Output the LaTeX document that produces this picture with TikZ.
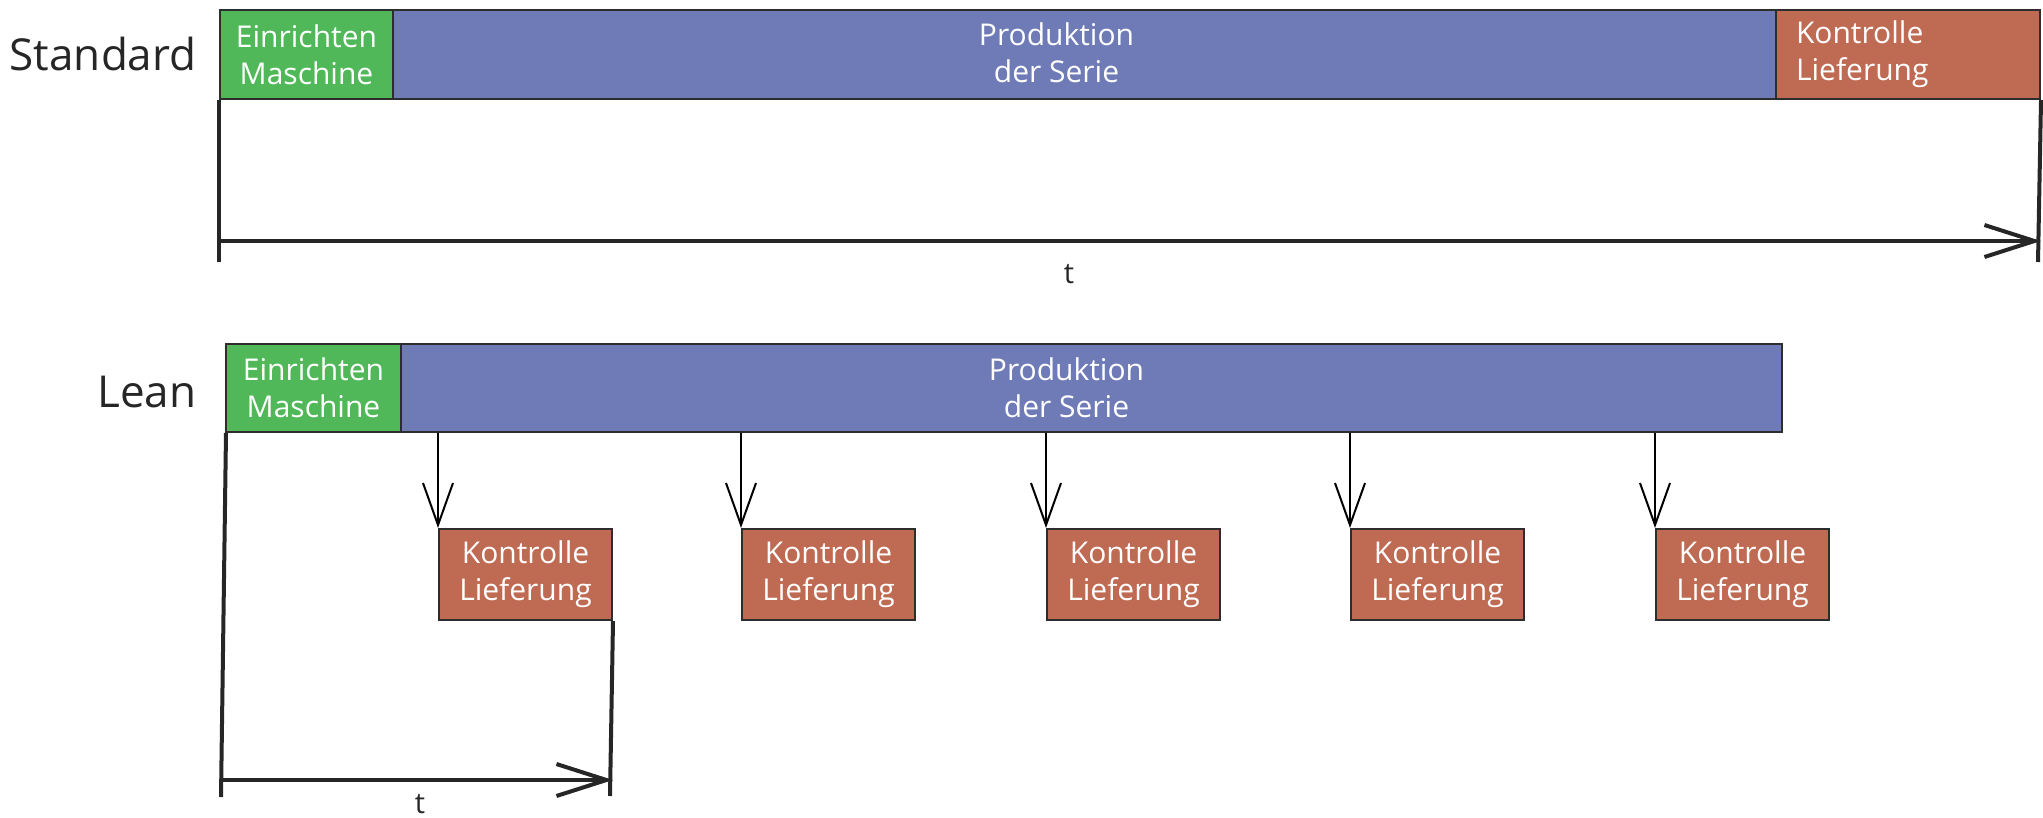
\documentclass[tikz,border=0pt]{standalone}
\usepackage{fontspec}
\setmainfont{Open Sans}
\usetikzlibrary{arrows.meta}
\definecolor{cgreen}{RGB}{80,184,88}
\definecolor{cblue}{RGB}{111,123,182}
\definecolor{cred}{RGB}{191,106,82}
\definecolor{cedge}{RGB}{45,45,45}
\begin{document}
\begin{tikzpicture}[x=1pt,y=-1pt,
  box/.style={draw=cedge,line width=2pt,text=white,align=center,inner sep=0pt,
    font=\fontsize{30}{37}\selectfont,anchor=north west},
  boxtxt/.style={text=white,align=center,font=\fontsize{30}{37}\selectfont},
  rowlbl/.style={font=\fontsize{44}{50}\selectfont,text=black!85,anchor=base east},
  tlbl/.style={font=\fontsize{29}{34}\selectfont,text=black!85,anchor=base},
  axisline/.style={draw=black!85,line width=4pt},
  axistip/.style={-{Straight Barb[length=50pt,width=32pt]}},
  varrow/.style={draw=black,line width=2pt,-{Straight Barb[length=42pt,width=30pt]}}
]
\useasboundingbox (0,0) rectangle (2043,817);

% ---------- Standard ----------
\node[rowlbl] (stdlbl) at (200,70) {Standard};
\node[box,fill=cgreen,minimum width=173pt,minimum height=89pt] (sg) at (219,9) {Einrichten\\Maschine};
\node[box,fill=cblue,minimum width=1383pt,minimum height=89pt,
  label={[boxtxt,xshift=-28pt,yshift=2pt]center:Produktion\\der Serie}] (sb) at (392,9) {};
\node[box,fill=cred,minimum width=264pt,minimum height=89pt,align=left,
  text width=224pt,inner xsep=20pt] (sr) at (1775,9) {Kontrolle\\Lieferung};

\coordinate (s0) at (219,262);
\coordinate (sa) at (219,241);
\coordinate (s1) at (2038,262);
\draw[axisline] (sg.south west) -- (s0);
\draw[axisline] (sr.south east) -- (s1);
\draw[axisline,axistip] (sa) -- (sa -| sr.south east);
\node[tlbl] (st) at (1069,283) {t};

% ---------- Lean ----------
\node[rowlbl] (leanlbl) at (200,407) {Lean};
\node[box,fill=cgreen,minimum width=175pt,minimum height=88pt] (lg) at (225,343) {Einrichten\\Maschine};
\node[box,fill=cblue,minimum width=1381pt,minimum height=88pt,
  label={[boxtxt,xshift=-25pt]center:Produktion\\der Serie}] (lb) at (400,343) {};

\foreach \i/\x in {1/438,2/741,3/1046,4/1350,5/1655}{
  \node[box,fill=cred,minimum width=173pt,minimum height=91pt] (k\i) at (\x,528) {Kontrolle\\Lieferung};
  \draw[varrow] (lb.south -| k\i.north west) -- (k\i.north west);
}

\coordinate (l0) at (221,797);
\coordinate (la) at (221,780);
\coordinate (l1) at (610,796);
\draw[axisline] ([xshift=1pt]lg.south west) -- (l0);
\draw[axisline] (k1.south east) -- (l1);
\draw[axisline,axistip] (la) -- (la -| k1.south east);
\node[tlbl] (lt) at (420,813) {t};
\end{tikzpicture}
\end{document}
